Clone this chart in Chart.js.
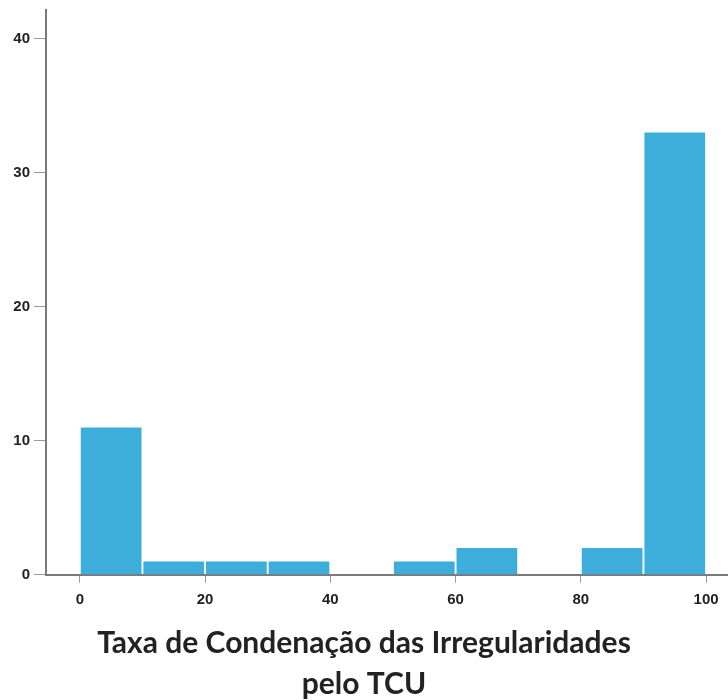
<!DOCTYPE html>
<html>
<head>
<meta charset="utf-8">
<script src="https://cdn.jsdelivr.net/npm/chart.js@4"></script>
<style>
  html, body { margin: 0; padding: 0; background: #fff; }
  canvas { display: block; }
</style>
</head>
<body>
<canvas id="histChart" width="728" height="700"></canvas>
<script>
    /* Histogram data: bins of width 10 */
    const binCenters = [5, 15, 25, 35, 45, 55, 65, 75, 85, 95];
    const counts = [11, 1, 1, 1, 0, 1, 2, 0, 2, 33];
    const xTickValues = [0, 20, 40, 60, 80, 100];
    const yTickValues = [0, 10, 20, 30, 40];
    const titleLines = ['Taxa de Condenação das Irregularidades', 'pelo TCU'];

    const axisGrey = '#7a7a7a';
    const tickFont = { family: '"Liberation Sans", Arial, sans-serif', size: 15, weight: 'bold' };

    new Chart(document.getElementById('histChart'), {
        type: 'bar',
        data: {
            datasets: [{
                data: binCenters.map((c, i) => ({ x: c, y: counts[i] })),
                backgroundColor: '#3daedb',
                borderWidth: 0,
                barPercentage: 0.97,
                categoryPercentage: 1
            }]
        },
        options: {
            responsive: false,
            animation: false,
            layout: { padding: { top: 8, right: 0, left: 0, bottom: 0 } },
            plugins: {
                legend: { display: false },
                tooltip: { enabled: false },
                title: {
                    display: true,
                    position: 'bottom',
                    text: titleLines,
                    color: '#222',
                    font: { family: 'Lato, sans-serif', size: 30, weight: 'bold', lineHeight: 1.37 },
                    padding: { top: 0, bottom: -5 }
                }
            },
            scales: {
                x: {
                    type: 'linear',
                    offset: false,
                    min: -5.4,
                    max: 103.5,
                    afterBuildTicks: s => { s.ticks = xTickValues.map(v => ({ value: v })); },
                    afterFit: s => { s.height = 48; },
                    grid: { offset: false, drawOnChartArea: false, drawTicks: true, tickLength: 8, tickColor: '#999', lineWidth: 1 },
                    border: { color: axisGrey, width: 2 },
                    ticks: { color: '#222', font: tickFont, padding: 8, maxRotation: 0 }
                },
                y: {
                    min: 0,
                    max: 42.15,
                    afterBuildTicks: s => { s.ticks = yTickValues.map(v => ({ value: v })); },
                    afterFit: s => { s.width = 46; },
                    grid: { drawOnChartArea: false, drawTicks: true, tickLength: 12, tickColor: '#999', lineWidth: 1 },
                    border: { color: axisGrey, width: 2 },
                    ticks: { color: '#222', font: Object.assign({}, tickFont, { lineHeight: 0.8 }), padding: 4 }
                }
            }
        }
    });
</script>
</body>
</html>
